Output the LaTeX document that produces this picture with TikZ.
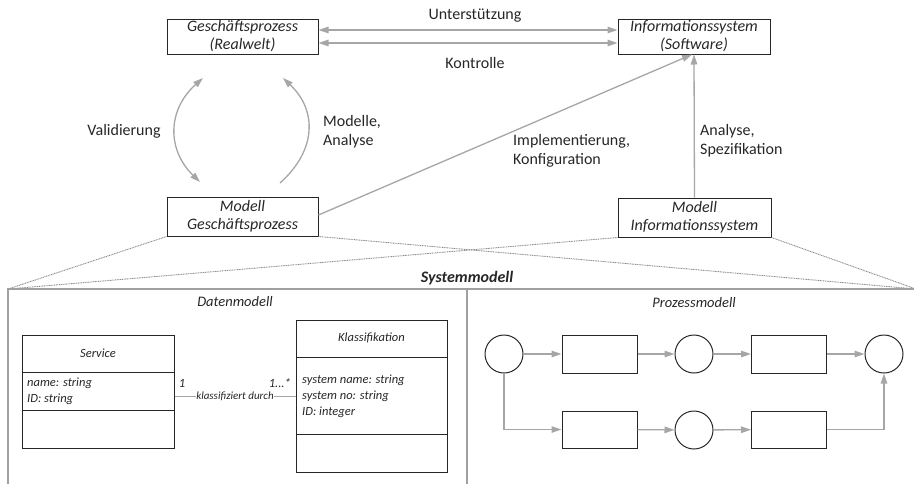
\documentclass[tikz,border=0pt]{standalone}
\usepackage{fontspec}
\setmainfont{Carlito}
\usetikzlibrary{arrows.meta,calc}
\definecolor{arrgray}{HTML}{A6A6A6}
\definecolor{framegray}{HTML}{A0A0A0}
\definecolor{dotgray}{HTML}{8C8C8C}
\definecolor{ink}{HTML}{262626}
\tikzset{
  arr/.style={draw=arrgray, line width=1.3pt, -{Triangle[length=10pt,width=6.5pt]}},
  darr/.style={draw=arrgray, line width=1.3pt, {Triangle[length=10pt,width=6.5pt]}-{Triangle[length=10pt,width=6.5pt]}},
  plainline/.style={draw=arrgray, line width=1.3pt},
  mbox/.style={draw=ink, line width=1pt, rectangle, inner sep=0pt, align=center, text=ink, font=\fontsize{16}{18}\selectfont\itshape},
  lbl/.style={text=ink, font=\fontsize{16}{19}\selectfont, align=left, inner sep=0pt},
  dotline/.style={draw=dotgray, line width=0.9pt, dash pattern=on 1pt off 0.7pt},
  frameline/.style={draw=framegray, line width=1.5pt},
  umlbox/.style={draw=ink, line width=1pt, rectangle, inner sep=0pt},
  umltxt/.style={text=ink, font=\fontsize{12.5}{16}\selectfont\itshape, inner sep=0pt, align=left},
  pcirc/.style={draw=ink, line width=1pt, circle, minimum size=38pt, inner sep=0pt},
  prect/.style={draw=ink, line width=1pt, rectangle, minimum width=75pt, minimum height=38pt, inner sep=0pt},
}
\begin{document}
\begin{tikzpicture}[x=1pt,y=-1pt]
\useasboundingbox (0,0) rectangle (914,483);
% top boxes
\node[mbox, minimum width=151pt, minimum height=35pt] (gp) at (242.5,36.5) {Geschäftsprozess\\(Realwelt)};
\node[mbox, minimum width=152pt, minimum height=35pt] (is) at (694,36.5) {Informationssystem\\(Software)};
\node[mbox, minimum width=151pt, minimum height=39pt] (mgp) at (242.5,216.5) {Modell\\Geschäftsprozess};
\node[mbox, minimum width=153pt, minimum height=39pt] (mis) at (694.5,217.5) {Modell\\Informationssystem};
% top arrows
\draw[darr] ([yshift=6.5pt]gp.east) -- ([yshift=6.5pt]is.west);
\draw[darr] ([yshift=-6.5pt]gp.east) -- ([yshift=-6.5pt]is.west);
\node[lbl] (unt) at (475,16) {Unterstützung};
\node[lbl] (kon) at (475,63) {Kontrolle};
% model arrows
\draw[arr] ([yshift=1.5pt]mgp.east) -- ([xshift=-2pt]is.south);
\draw[arr] (mis.north) -- (is.south);
\node[lbl, anchor=west] (impl) at (513,151) {Implementierung,\\Konfiguration};
\node[lbl, anchor=west] (anal) at (700,140.5) {Analyse,\\Spezifikation};
% arcs
\coordinate (va) at (200,182);
\coordinate (vb) at (203,78);
\coordinate (ma) at (280,183);
\coordinate (mb) at (283,78);
\draw[darr] (va) .. controls (167,150) and (167,110) .. (vb);
\draw[arr] (ma) .. controls (317,150) and (317,110) .. (mb);
\node[lbl] (val) at (124,131) {Validierung};
\node[lbl, anchor=west] (moda) at (323,131.5) {Modelle,\\Analyse};
% system model frame
\coordinate (ftl) at (8,289);
\coordinate (ftr) at (916,289);
\coordinate (fbl) at (8,486);
\coordinate (dtop) at (467,289);
\coordinate (dbot) at (467,486);
\draw[dotline] (mgp.south west) -- (ftl);
\draw[dotline] (mgp.south east) -- (ftr);
\draw[dotline] (mis.south west) -- (ftl);
\draw[dotline] (mis.south east) -- (ftr);
\draw[frameline] (fbl) -- (ftl) -- (ftr);
\draw[frameline] (dtop) -- (dbot);
\node[text=ink, font=\fontsize{16}{18}\selectfont\bfseries\itshape, inner sep=0pt] (sm) at (467,278) {Systemmodell};
\node[text=ink, font=\fontsize{14.5}{18}\selectfont\itshape, inner sep=0pt] (dm) at (235,302) {Datenmodell};
\node[text=ink, font=\fontsize{14.5}{18}\selectfont\itshape, inner sep=0pt] (pm) at (694,303) {Prozessmodell};
% UML classes
\node[umlbox, minimum width=152pt, minimum height=113pt] (svc) at (98,391.5) {};
\draw[draw=ink, line width=1pt] (svc.west |- 0,372) -- (svc.east |- 0,372);
\draw[draw=ink, line width=1pt] (svc.west |- 0,410) -- (svc.east |- 0,410);
\node[umltxt] (svcn) at (98,353) {Service};
\node[umltxt, anchor=west] (svca) at (27,391) {name: string\\ID: string};
\node[umlbox, minimum width=151pt, minimum height=152pt] (kl) at (371.5,396) {};
\draw[draw=ink, line width=1pt] (kl.west |- 0,357) -- (kl.east |- 0,357);
\draw[draw=ink, line width=1pt] (kl.west |- 0,434) -- (kl.east |- 0,434);
\node[umltxt] (kln) at (371.5,338) {Klassifikation};
\node[umltxt, anchor=west] (kla) at (302,396) {system name: string\\system no: string\\ID: integer};
\draw[plainline, line width=1pt] (svc.east |- 0,396) -- node[fill=white, inner sep=0.5pt, text=ink, font=\fontsize{11}{12}\selectfont\itshape] (assoc) {klassifiziert durch} (kl.west |- 0,396);
\node[umltxt] (m1) at (182,383) {1};
\node[umltxt, anchor=east] (m2) at (291,383) {1...*};
% process model
\node[pcirc] (c1) at (504,354) {};
\node[prect] (r1) at (599.5,354) {};
\node[pcirc] (c2) at (694,354) {};
\node[prect] (r2) at (789,354) {};
\node[pcirc] (c3) at (884,354) {};
\node[prect, minimum height=37pt] (r3) at (599.5,429.5) {};
\node[pcirc] (c4) at (694,430) {};
\node[prect, minimum height=37pt] (r4) at (789,429.5) {};
\draw[arr] (c1) -- (r1);
\draw[arr] (r1) -- (c2);
\draw[arr] (c2) -- (r2);
\draw[arr] (r2) -- (c3);
\draw[arr] (c1.south) |- (r3.west);
\draw[arr] (r3) -- (c4);
\draw[arr] (c4) -- (r4);
\draw[arr] (r4.east) -| (c3.south);
\end{tikzpicture}
\end{document}
